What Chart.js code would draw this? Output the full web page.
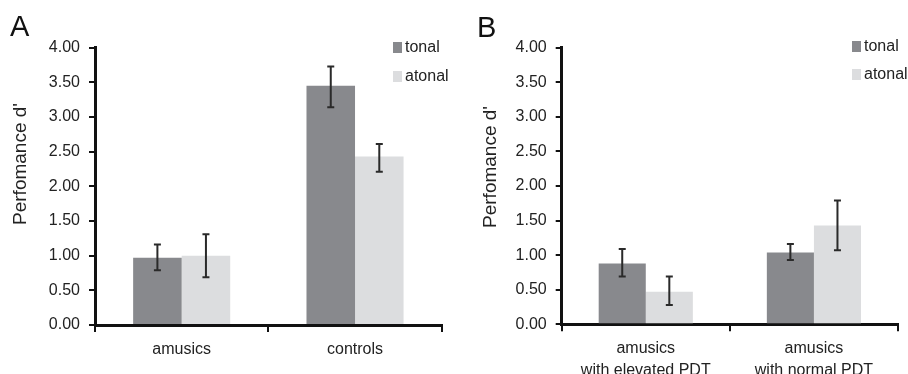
<!DOCTYPE html>
<html><head><meta charset="utf-8">
<script src="https://cdn.jsdelivr.net/npm/chart.js@4.4.1/dist/chart.umd.min.js"></script>
<style>
html,body{margin:0;padding:0;background:#fff}
body{width:908px;height:374px;overflow:hidden;position:relative;font-family:"Liberation Sans",Arial,sans-serif;color:#222}
.panel{position:absolute;top:0;width:454px;height:374px}
.letter{position:absolute;font-size:29px;line-height:1;color:#111}
.ytitle{position:absolute;transform:translate(-50%,-50%) rotate(-90deg);white-space:nowrap;font-size:19px;line-height:1;color:#222}
.lg{position:absolute;display:flex;align-items:center;font-size:16px;line-height:1;color:#222}
.lg span.sw{display:inline-block;width:9px;height:11px;margin-right:3px}
</style>
</head><body>
<div class="panel" style="left:0"><canvas id="cA" width="454" height="374"></canvas></div>
<div class="panel" style="left:454px"><canvas id="cB" width="454" height="374"></canvas></div>
<div class="letter" style="left:10px;top:12px">A</div>
<div class="letter" style="left:477px;top:13px">B</div>
<div class="ytitle" style="left:19px;top:164px">Perfomance d'</div>
<div class="ytitle" style="left:489px;top:167px">Perfomance d'</div>
<div id="legA"></div><div id="legB"></div>
<script>
// ---- data ----
const seriesNames = ['tonal', 'atonal'];
const seriesColors = ['#88898d', '#dcdddf'];
const yTicks = [0, 0.5, 1, 1.5, 2, 2.5, 3, 3.5, 4];

const catsA = ['amusics', 'controls'];
const tonalA = [0.97, 3.45];
const atonalA = [1.00, 2.43];
const tonalLowA = [0.79, 3.14];
const tonalHighA = [1.16, 3.73];
const atonalLowA = [0.69, 2.21];
const atonalHighA = [1.31, 2.61];

const catsB = [['amusics', 'with elevated PDT'], ['amusics', 'with normal PDT']];
const tonalB = [0.88, 1.04];
const atonalB = [0.47, 1.43];
const tonalLowB = [0.69, 0.93];
const tonalHighB = [1.09, 1.16];
const atonalLowB = [0.28, 1.07];
const atonalHighB = [0.69, 1.79];

Chart.defaults.font.family = '"Liberation Sans", Arial, sans-serif';
Chart.defaults.font.size = 16;
Chart.defaults.color = '#222';

// ---- error bars plugin ----
const errorBars = {
  id: 'errorBars',
  afterDatasetsDraw(chart) {
    const ctx = chart.ctx, ys = chart.scales.y;
    chart.data.datasets.forEach((ds, i) => {
      const meta = chart.getDatasetMeta(i);
      meta.data.forEach((bar, j) => {
        const x = bar.x;
        const yl = ys.getPixelForValue(ds.errLow[j]);
        const yh = ys.getPixelForValue(ds.errHigh[j]);
        ctx.save();
        ctx.strokeStyle = '#2a2a2a';
        ctx.lineWidth = 2;
        ctx.beginPath();
        ctx.moveTo(x, yl); ctx.lineTo(x, yh);
        ctx.moveTo(x - 3.5, yl); ctx.lineTo(x + 3.5, yl);
        ctx.moveTo(x - 3.5, yh); ctx.lineTo(x + 3.5, yh);
        ctx.stroke();
        ctx.restore();
      });
    });
  }
};

function makeChart(id, cats, vals, lows, highs, pad, yWidth, bottomY) {
  return new Chart(document.getElementById(id), {
    type: 'bar',
    data: {
      labels: cats,
      datasets: seriesNames.map((n, i) => ({
        label: n, data: vals[i], errLow: lows[i], errHigh: highs[i],
        backgroundColor: seriesColors[i], borderWidth: 0,
        categoryPercentage: 0.56, barPercentage: 1
      }))
    },
    options: {
      responsive: false, animation: false,
      layout: {padding: pad},
      plugins: {legend: {display: false}, tooltip: {enabled: false}},
      scales: {
        x: {
          grid: {offset: true, drawOnChartArea: false, tickLength: 7, color: '#111', lineWidth: 2},
          border: {color: '#111', width: 3},
          ticks: {font: {size: 16, lineHeight: 1.33}, color: '#222', padding: 7, maxRotation: 0, autoSkip: false},
          afterFit(s) { s.height = 374 - bottomY; }
        },
        y: {
          min: 0, max: 4,
          afterBuildTicks(s) { s.ticks = yTicks.map(v => ({value: v})); },
          ticks: {font: {size: 16}, color: '#222', padding: 9, callback: v => Number(v).toFixed(2)},
          grid: {drawOnChartArea: false, tickLength: 6, color: '#111', lineWidth: 2},
          border: {color: '#111', width: 3},
          afterFit(s) { s.width = yWidth; }
        }
      }
    },
    plugins: [errorBars]
  });
}

makeChart('cA', catsA, [tonalA, atonalA], [tonalLowA, atonalLowA], [tonalHighA, atonalHighA],
  {left: 0, top: 47.7, right: 12.3, bottom: 0}, 95, 325);
makeChart('cB', catsB, [tonalB, atonalB], [tonalLowB, atonalLowB], [tonalHighB, atonalHighB],
  {left: 0, top: 47.7, right: 10, bottom: 0}, 107.7, 324.3);

function legend(el, left, tops) {
  const c = document.getElementById(el);
  seriesNames.forEach((n, i) => {
    const d = document.createElement('div');
    d.className = 'lg';
    d.style.left = left + 'px';
    d.style.top = tops[i] + 'px';
    d.innerHTML = '<span class="sw" style="background:' + seriesColors[i] + '"></span>' + n;
    c.appendChild(d);
  });
}
legend('legA', 393, [39, 68]);
legend('legB', 852, [38, 66]);
</script>
</body></html>
